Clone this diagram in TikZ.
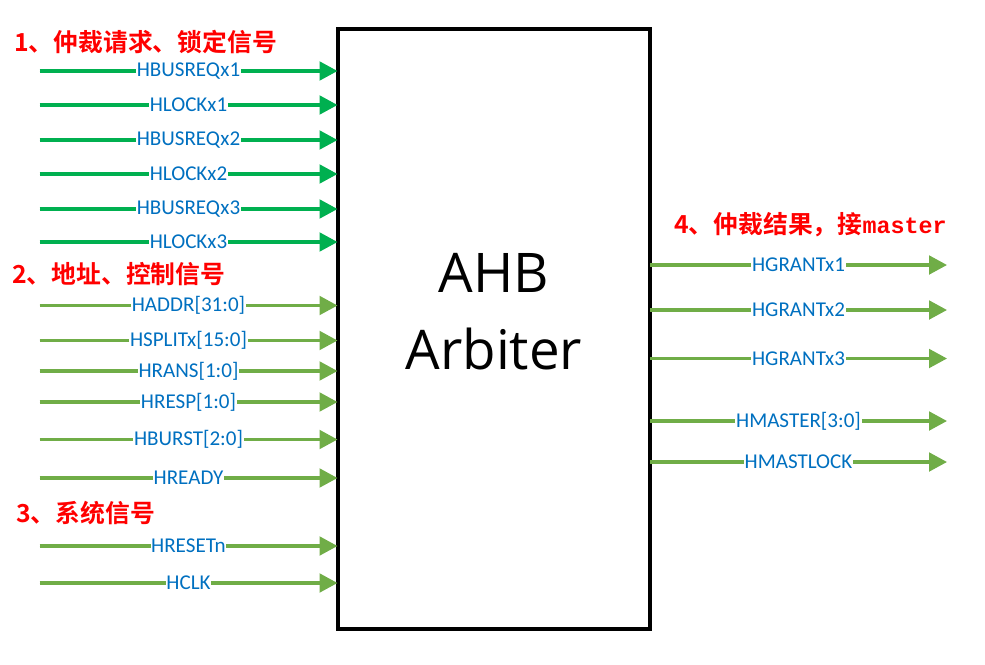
\documentclass[tikz,border=0pt]{standalone}
\usepackage{fontspec}
\setmainfont{Carlito}
\newfontfamily\cjk{Noto Sans CJK SC}[BoldFont={Noto Sans CJK SC Bold}]
\newfontfamily\bigfont{Open Sans}
\newfontfamily\monob{Liberation Mono}
\usetikzlibrary{arrows.meta}
\definecolor{brgreen}{HTML}{00B050}
\definecolor{offgreen}{HTML}{70AD47}
\definecolor{sigblue}{HTML}{0070C0}
\definecolor{headred}{HTML}{FF0000}
\begin{document}
\begin{tikzpicture}[x=0.75pt,y=-0.75pt,
  sig/.style={line width=2.3pt,-{Triangle[length=13.5pt,width=14pt]}},
  lab/.style={fill=white,inner xsep=0.5pt,inner ysep=1pt,text=sigblue,font=\fontsize{15.8}{17}\selectfont},
  head/.style={anchor=west,text=headred,inner sep=0pt,font=\cjk\bfseries\fontsize{18.6}{22}\selectfont},
  box/.style={draw=black,line width=2.3pt,fill=white,inner sep=0pt,outer sep=0pt}]
\useasboundingbox (0,0) rectangle (985,664);
\node[box,minimum width=234pt,minimum height=450pt,anchor=north west] (arb) at (338,29) {};
\node[font=\bigfont\fontsize{41}{58}\selectfont,align=center] (title) at (494,312) {AHB\\Arbiter};
% left inputs
\foreach \yy/\txt/\nm/\col in {
  71/HBUSREQx1/a1/brgreen, 105/HLOCKx1/a2/brgreen, 140/HBUSREQx2/a3/brgreen,
  174/HLOCKx2/a4/brgreen, 209/HBUSREQx3/a5/brgreen, 242/HLOCKx3/a6/brgreen,
  305.5/{HADDR[31:0]}/b1/offgreen, 340.5/{HSPLITx[15:0]}/b2/offgreen, 371/{HRANS[1:0]}/b3/offgreen,
  402/{HRESP[1:0]}/b4/offgreen, 439.5/{HBURST[2:0]}/b5/offgreen, 478/HREADY/b6/offgreen,
  546/HRESETn/c1/offgreen, 583/HCLK/c2/offgreen}{
  \coordinate (s\nm) at (39.5,\yy);
  \coordinate (e\nm) at (337.5,\yy);
  \draw[sig,draw=\col,fill=\col] (s\nm) -- (e\nm) node[lab,midway] (l\nm) {\txt};
}
% right outputs
\foreach \yy/\txt/\nm in {
  265/HGRANTx1/r1, 310/HGRANTx2/r2, 358.5/HGRANTx3/r3,
  421/{HMASTER[3:0]}/r4, 462/HMASTLOCK/r5}{
  \coordinate (s\nm) at (650,\yy);
  \coordinate (e\nm) at (947,\yy);
  \draw[sig,draw=offgreen,fill=offgreen] (s\nm) -- (e\nm) node[lab,midway] (l\nm) {\txt};
}
\node[head] (h1) at (14,42) {1、仲裁请求、锁定信号};
\node[head] (h2) at (12,274.5) {2、地址、控制信号};
\node[head] (h3) at (16,513) {3、系统信号};
\node[head] (h4) at (674,225) {4、仲裁结果，接{\monob\bfseries\fontsize{17.5}{22}\selectfont master}};
\end{tikzpicture}
\end{document}
